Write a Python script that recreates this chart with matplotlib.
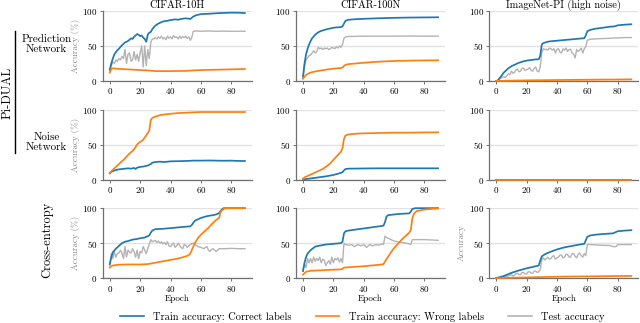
import matplotlib
matplotlib.use("Agg")
import matplotlib.pyplot as plt
from matplotlib.lines import Line2D

# ---- data: (epoch, accuracy %) ----
# Pi-DUAL prediction network
c10h_pred_correct = [(0, 16), (1, 25), (2, 32), (3, 38), (5, 44), (6, 46), (8, 51), (10, 55), (12, 57), (14, 61),
                     (15, 60), (16, 63), (18, 67), (19, 66), (20, 64), (21, 65), (22, 62), (23, 60), (24, 56),
                     (25, 66), (26, 69), (27, 70), (28, 74), (30, 79), (32, 82), (35, 85), (38, 86), (40, 87),
                     (43, 88), (45, 87.5), (48, 89), (50, 89.5), (52, 89), (53, 88.5), (55, 92), (57, 94),
                     (60, 95.5), (65, 96), (70, 96.7), (75, 97.2), (80, 97.6), (85, 97.5), (89, 97)]
c10h_pred_wrong = [(0, 12), (1, 17), (2, 18), (4, 17.5), (8, 17), (12, 16.5), (16, 16), (20, 15.5), (25, 15),
                   (30, 14), (35, 14), (40, 14), (45, 14.2), (50, 14.3), (55, 15), (60, 15.5), (70, 16),
                   (80, 16.5), (89, 17)]
c10h_pred_test = [(0, 14), (1, 22), (2, 27), (3, 25), (4, 30), (5, 28), (6, 32), (7, 30), (8, 35), (9, 32),
                  (10, 45), (11, 25), (12, 38), (13, 40), (14, 28), (15, 30), (16, 42), (17, 30), (18, 38),
                  (19, 28), (20, 40), (21, 50), (22, 20), (23, 50), (24, 22), (25, 45), (26, 32), (27, 55),
                  (28, 60), (29, 60), (30, 62), (31, 60), (32, 63), (33, 61), (34, 64), (35, 60), (36, 62),
                  (37, 59), (38, 64), (39, 61), (40, 63), (41, 60), (42, 65), (43, 62), (44, 63), (45, 60),
                  (46, 64), (47, 61), (48, 63), (49, 62), (50, 64), (51, 61), (52, 63), (53, 58), (54, 62),
                  (55, 71), (57, 71.5), (60, 71), (65, 71.5), (70, 71), (75, 71.2), (80, 71), (85, 71), (89, 71)]

c100n_pred_correct = [(0, 6), (1, 25), (2, 38), (3, 46), (4, 52), (5, 57), (6, 61), (8, 66), (10, 69.5),
                      (12, 71.5), (15, 73.5), (18, 75), (20, 76), (22, 76.5), (25, 77), (26, 78), (27, 82),
                      (28, 86), (30, 87.5), (35, 88.3), (40, 88.8), (50, 89.6), (60, 90.2), (70, 90.6),
                      (80, 90.8), (89, 91)]
c100n_pred_wrong = [(0, 3), (1, 6), (2, 8.5), (3, 10), (5, 12), (8, 13.5), (10, 14.3), (15, 16), (20, 17.5),
                    (25, 18.5), (26, 19), (27, 21.5), (28, 23), (30, 24), (35, 25), (40, 26), (50, 27.5),
                    (60, 28.5), (70, 29), (80, 29.3), (89, 29.5)]
c100n_pred_test = [(0, 5), (1, 20), (2, 30), (3, 33), (4, 36), (5, 37), (6, 40), (7, 43), (8, 40), (9, 42),
                   (10, 48), (11, 46), (12, 47), (13, 45), (14, 47), (15, 46), (16, 47), (17, 45), (18, 46),
                   (19, 48), (20, 47), (21, 46), (22, 49), (23, 47), (24, 50), (25, 48), (26, 52), (27, 61),
                   (28, 63), (30, 63.5), (40, 64), (50, 64), (60, 64), (70, 64.2), (80, 64), (89, 64)]

imnet_pred_correct = [(0, 0), (1, 0.5), (3, 6), (5, 12), (8, 18), (10, 21), (13, 24), (15, 26), (18, 28),
                      (20, 29), (25, 30.5), (28, 31), (29, 36), (30, 52), (31, 54), (33, 55.5), (35, 56.5),
                      (40, 57.5), (45, 58.5), (50, 59.5), (55, 60.5), (58, 61), (59, 65), (60, 71), (62, 73),
                      (65, 74.5), (70, 76), (75, 77.5), (78, 78), (80, 79.5), (85, 80.5), (89, 81)]
imnet_pred_wrong = [(0, 0), (10, 0.4), (20, 0.8), (30, 1), (40, 1.3), (50, 1.5), (60, 1.7), (70, 1.9),
                    (80, 2), (89, 2.2)]
imnet_pred_test = [(0, 0), (1, 0.5), (3, 4), (5, 6), (6, 5), (8, 10), (9, 9), (10, 14), (11, 11), (12, 12),
                   (13, 16), (14, 17), (15, 13), (16, 14), (17, 18), (18, 18), (19, 15), (20, 16), (21, 17),
                   (22, 19), (23, 15), (24, 14), (25, 18), (26, 20), (27, 14), (28, 13), (29, 20), (30, 40),
                   (31, 46), (32, 45), (33, 45), (34, 44), (35, 47), (36, 46), (37, 44), (38, 46), (39, 40),
                   (40, 45), (41, 46), (42, 41), (43, 40), (44, 46), (45, 44), (46, 47), (47, 42), (48, 45),
                   (49, 45), (50, 40), (51, 38), (52, 33), (53, 45), (54, 42), (55, 44), (56, 47), (57, 40),
                   (58, 46), (59, 49), (60, 58), (61, 59), (62, 59.5), (65, 60), (70, 60.5), (75, 61),
                   (80, 61.5), (85, 62), (89, 62)]

# Pi-DUAL noise network
c10h_noise_correct = [(0, 9), (1, 11), (2, 12), (4, 13.5), (6, 14.5), (8, 15), (10, 15.5), (12, 16), (14, 15.5),
                      (16, 16.5), (17, 15), (18, 17), (20, 18), (22, 18.5), (24, 19.5), (25, 20), (26, 21),
                      (27, 22), (28, 24), (30, 25), (33, 25.5), (36, 25), (40, 26), (45, 26.2), (50, 26.5),
                      (55, 27), (60, 27), (65, 27.2), (70, 27), (75, 26.8), (80, 27), (85, 26.5), (89, 26.5)]
c10h_noise_wrong = [(0, 9), (2, 14), (4, 18), (6, 22), (8, 26), (10, 30), (12, 35), (14, 39), (16, 43),
                    (18, 50), (19, 52), (20, 54), (21, 55), (22, 57), (23, 60), (24, 63), (25, 66), (26, 70),
                    (27, 85), (28, 88), (30, 90), (33, 92), (36, 93), (40, 94), (45, 95), (50, 95.5), (55, 96),
                    (60, 96.5), (70, 96.5), (80, 96.5), (89, 96.5)]

c100n_noise_correct = [(0, 0), (5, 1.5), (10, 3), (15, 4.5), (20, 6.5), (25, 9.5), (26, 10.5), (27, 13),
                       (28, 15), (30, 15.5), (40, 15.8), (50, 16), (60, 16), (70, 16), (80, 16), (89, 16)]
c100n_noise_wrong = [(0, 1), (1, 3), (3, 5), (5, 7), (8, 10), (10, 12), (13, 15), (15, 18), (18, 23), (20, 28),
                     (23, 35), (25, 40), (26, 45), (27, 58), (28, 63), (30, 64.5), (35, 65.5), (40, 66),
                     (50, 66.5), (60, 67), (70, 67), (80, 67.3), (89, 67.5)]

imnet_noise_correct = [(0, 0), (89, 0)]
imnet_noise_wrong = [(0, 0), (89, 0)]

# Cross-entropy baseline
c10h_ce_correct = [(0, 20), (1, 30), (2, 37), (4, 42), (6, 46), (8, 50), (10, 52), (12, 53), (15, 55), (18, 56),
                   (20, 57), (23, 58), (25, 60), (26, 61), (27, 65), (28, 68), (30, 70), (35, 70.5),
                   (40, 71.5), (45, 72.5), (50, 73.5), (53, 74), (54, 76), (55, 79), (56, 82), (58, 84),
                   (60, 86), (63, 88), (65, 89), (68, 90), (70, 91), (72, 93), (73, 96), (74, 98.5),
                   (75, 100), (80, 100), (89, 100)]
c10h_ce_wrong = [(0, 15), (1, 17), (2, 18), (5, 19), (10, 19.5), (20, 19.5), (25, 20), (30, 22), (35, 24),
                 (40, 26), (45, 28), (50, 31), (52, 33), (53, 35), (54, 40), (55, 45), (56, 50), (58, 57),
                 (60, 62), (63, 68), (65, 72), (68, 79), (70, 83), (72, 86), (73, 95), (75, 99), (77, 100),
                 (89, 100)]
c10h_ce_test = [(0, 18), (1, 35), (2, 28), (3, 38), (4, 30), (5, 35), (6, 36), (7, 40), (8, 36), (9, 28),
                (10, 45), (11, 30), (12, 40), (13, 37), (14, 36), (15, 42), (16, 38), (17, 30), (18, 40),
                (19, 28), (20, 38), (21, 36), (22, 45), (23, 40), (24, 35), (25, 42), (26, 48), (27, 55),
                (28, 52), (29, 53), (30, 54), (31, 51), (32, 53), (33, 50), (34, 52), (35, 49), (36, 51),
                (37, 48), (38, 52), (39, 46), (40, 45), (41, 48), (42, 50), (43, 44), (44, 46), (45, 50),
                (46, 47), (47, 44), (48, 42), (49, 48), (50, 47), (51, 44), (52, 46), (53, 48), (54, 49),
                (55, 50), (56, 48), (57, 47), (58, 45), (60, 44), (62, 42), (63, 44), (64, 45), (65, 40),
                (66, 38), (67, 41), (68, 42), (69, 40), (70, 38), (71, 40), (72, 42), (75, 42), (80, 42.5),
                (85, 42), (89, 42)]

c100n_ce_correct = [(0, 10), (1, 22), (2, 30), (3, 35), (5, 40), (8, 45), (10, 46), (15, 48), (20, 49),
                    (25, 50), (26, 52), (27, 64), (28, 67), (30, 68), (35, 69.5), (40, 71), (45, 72.5),
                    (50, 74), (53, 75), (54, 80), (55, 88), (56, 90), (60, 91), (65, 92), (70, 92.5),
                    (71, 95), (72, 99), (74, 100), (89, 100)]
c100n_ce_wrong = [(0, 5), (1, 7), (2, 9), (5, 10.5), (10, 11), (20, 12), (25, 12.5), (26, 13), (27, 15),
                  (30, 15.5), (40, 17), (50, 19), (53, 20), (55, 27), (58, 37), (60, 43), (63, 50), (65, 55),
                  (68, 61), (70, 65), (71, 69), (72, 85), (73, 92), (75, 96), (80, 98), (85, 99), (89, 99.5)]
c100n_ce_test = [(0, 12), (1, 20), (2, 15), (3, 28), (4, 22), (5, 28), (6, 22), (7, 30), (8, 24), (9, 28),
                 (10, 25), (11, 30), (12, 22), (13, 27), (14, 26), (15, 18), (16, 22), (17, 25), (18, 20),
                 (19, 30), (20, 22), (21, 28), (22, 26), (23, 29), (24, 23), (25, 28), (26, 22), (27, 50),
                 (28, 48), (30, 47), (32, 48), (34, 45), (36, 48), (38, 46), (40, 48), (42, 44), (44, 48),
                 (46, 46), (48, 48), (50, 47), (52, 49), (53, 48), (54, 60), (55, 58), (58, 55), (60, 53),
                 (62, 52), (65, 51), (68, 50), (70, 49), (71, 48), (72, 55), (75, 55), (80, 55), (85, 54.5),
                 (89, 54)]

imnet_ce_correct = [(0, 0), (5, 3), (10, 7.5), (15, 11), (20, 14), (25, 16.5), (28, 18), (29, 25), (30, 31),
                    (32, 34), (35, 37), (40, 41), (45, 44), (50, 46), (55, 48), (58, 49), (59, 54), (60, 59),
                    (62, 61), (65, 62), (70, 63), (77, 64), (78, 65), (80, 67), (85, 68), (89, 68.5)]
imnet_ce_wrong = [(0, 0), (10, 0.5), (20, 1), (30, 1.5), (40, 2), (50, 2.3), (60, 2.5), (70, 2.7), (80, 3),
                  (89, 3)]
imnet_ce_test = [(0, 0), (2, 1), (5, 2), (8, 3), (9, 4), (10, 5), (11, 3), (12, 4), (13, 6), (14, 7), (15, 5),
                 (16, 5), (17, 8), (18, 8), (19, 6), (20, 6), (21, 9), (22, 9), (23, 7), (24, 7), (25, 10),
                 (26, 10), (27, 8), (28, 9), (29, 12), (30, 26), (31, 29), (32, 26), (33, 28), (34, 30),
                 (35, 27), (36, 28), (37, 31), (38, 32), (39, 27), (40, 29), (41, 30), (42, 33), (43, 33),
                 (44, 29), (45, 30), (46, 34), (47, 34), (48, 30), (49, 30), (50, 35), (51, 35), (52, 31),
                 (53, 29), (54, 34), (55, 36), (56, 32), (57, 30), (58, 35), (59, 32), (60, 48), (62, 48),
                 (65, 47.5), (70, 47), (75, 46.5), (77, 45), (79, 45), (80, 48), (85, 48), (89, 48)]

titles = ["CIFAR-10H", "CIFAR-100N", "ImageNet-PI (high noise)"]
series_labels = ["Train accuracy: Correct labels", "Train accuracy: Wrong labels", "Test accuracy"]

BLUE = "#1f77b4"
ORANGE = "#ff7f0e"
GRAY = "#b3b3b3"

plt.rcParams["font.family"] = ["cmr10", "DejaVu Serif"]
plt.rcParams["mathtext.fontset"] = "cm"
plt.rcParams["axes.unicode_minus"] = False
plt.rcParams["axes.formatter.use_mathtext"] = True

grid = [
    [(c10h_pred_correct, c10h_pred_wrong, c10h_pred_test),
     (c100n_pred_correct, c100n_pred_wrong, c100n_pred_test),
     (imnet_pred_correct, imnet_pred_wrong, imnet_pred_test)],
    [(c10h_noise_correct, c10h_noise_wrong, None),
     (c100n_noise_correct, c100n_noise_wrong, None),
     (imnet_noise_correct, imnet_noise_wrong, None)],
    [(c10h_ce_correct, c10h_ce_wrong, c10h_ce_test),
     (c100n_ce_correct, c100n_ce_wrong, c100n_ce_test),
     (imnet_ce_correct, imnet_ce_wrong, imnet_ce_test)],
]


def draw(ax, pts, color, lw, z):
    xs = [p[0] for p in pts]
    ys = [p[1] for p in pts]
    ax.plot(xs, ys, color=color, lw=lw, zorder=z, clip_on=False)


fig = plt.figure(figsize=(6.4, 3.23), dpi=100)
gs = fig.add_gridspec(3, 3, left=0.161, right=0.997, top=0.966, bottom=0.139,
                      wspace=0.30, hspace=0.41)

for r in range(3):
    for c in range(3):
        ax = fig.add_subplot(gs[r, c])
        correct, wrong, test = grid[r][c]
        if test is not None:
            draw(ax, test, GRAY, 1.0, 3)
        draw(ax, correct, BLUE, 1.25, 4)
        draw(ax, wrong, ORANGE, 1.25, 5)

        ax.set_ylim(0, 100)
        ax.set_xlim(-4.45, 93.45)
        ax.set_xticks([0, 20, 40, 60, 80])
        ax.set_yticks([0, 50, 100])
        ax.grid(axis="y", color="#e2e2e2", lw=1.0, zorder=0)
        ax.set_axisbelow(True)
        for side in ("top", "right"):
            ax.spines[side].set_visible(False)
        for side in ("left", "bottom"):
            ax.spines[side].set_color("#707070")
            ax.spines[side].set_linewidth(0.9)
        ax.tick_params(labelsize=6.5, length=2.5, width=0.7, color="#707070", pad=1.5)

        if r == 0:
            ax.set_title(titles[c], fontsize=7.5, pad=2)
        if r == 2:
            ax.set_xlabel("Epoch", fontsize=6.5, labelpad=0.5)
        if c == 0:
            ax.set_ylabel("Accuracy (%)", fontsize=6.5, color="#888888", labelpad=2)
        if r == 2 and c == 2:
            ax.set_ylabel("Accuracy", fontsize=6.5, color="#888888", labelpad=2)

# row annotations on the left
fig.text(0.011, 0.712, "Pi-DUAL", rotation=90, fontsize=9, ha="center", va="center")
fig.add_artist(Line2D([0.024, 0.024], [1 - 31 / 323, 1 - 153 / 323], color="black", lw=1.0))
fig.text(0.073, 0.864, "Prediction\nNetwork", fontsize=8, ha="center", va="center", linespacing=1.1)
fig.text(0.073, 0.56, "Noise\nNetwork", fontsize=8, ha="center", va="center", linespacing=1.1)
fig.text(0.074, 0.257, "Cross-entropy", rotation=90, fontsize=9, ha="center", va="center")

handles = [Line2D([], [], color=BLUE, lw=1.2),
           Line2D([], [], color=ORANGE, lw=1.2),
           Line2D([], [], color=GRAY, lw=1.2)]
fig.legend(handles, series_labels, loc="center", bbox_to_anchor=(0.566, 0.02), ncol=3, frameon=False,
           fontsize=7.5, handlelength=2.3, handletextpad=0.9, columnspacing=2.3)

fig.savefig("out.png", dpi=100)
